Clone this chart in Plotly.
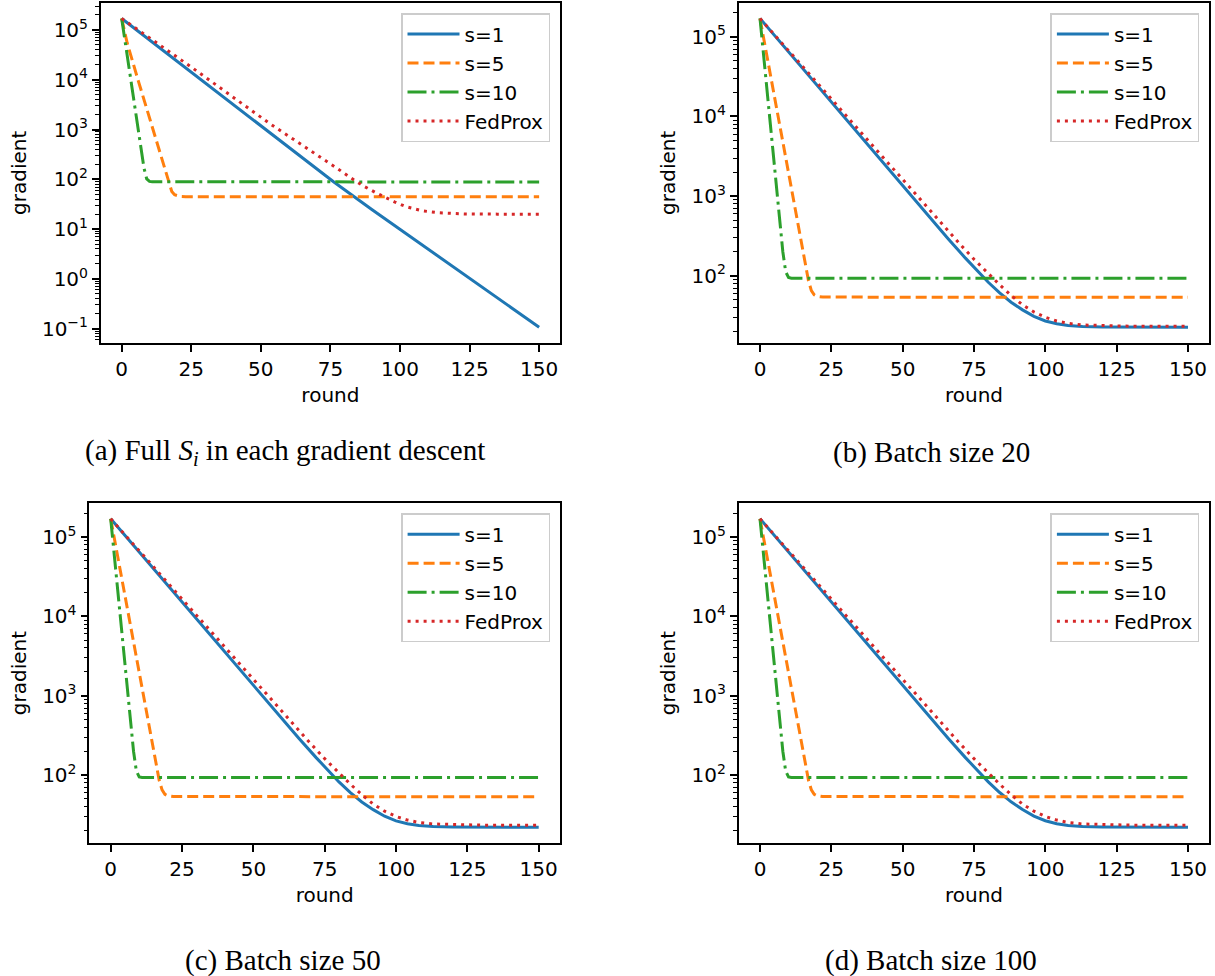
import math
import plotly.graph_objects as go

W, H = 1215, 976

# ---------------------------------------------------------------------------
# Gradient norm vs. communication round, sampled at selected rounds
# ---------------------------------------------------------------------------
SERIES_NAMES = ["s=1", "s=5", "s=10", "FedProx"]
ROUND_TICKS = [0, 25, 50, 75, 100, 125, 150]

# (a) full S_i in every gradient step
A_S1_ROUNDS = [0, 25, 50, 64, 76, 90, 105, 125, 150]
A_S1_GRAD = [170000, 14290, 1189, 295, 90.2, 24.5, 6.31, 1.047, 0.107]
A_S5_ROUNDS = [0, 2, 6, 10, 14, 16, 17, 18, 19, 20, 21, 23, 150]
A_S5_GRAD = [170000, 54000, 9400, 1650, 290, 121, 82, 57, 49, 46.3, 45.3, 44.8, 44.6]
A_S10_ROUNDS = [0, 2, 4, 6, 7, 8, 9, 10, 11, 150]
A_S10_GRAD = [170000, 30000, 5400, 950, 400, 170, 102, 91, 89, 88.7]
A_FP_ROUNDS = [0, 25, 53, 69, 78, 83, 87, 91, 94, 98, 102, 105, 108, 114, 123, 135, 150]
A_FP_GRAD = [170000, 18000, 1340, 350, 158, 101, 72.8, 55.1, 44.9, 35.4, 28.4, 25.4,
             23.3, 21.3, 20.2, 20.0, 20.0]

# (b)-(d) mini-batch runs, sampled at the same rounds
MB_S1_ROUNDS = [0, 25, 50, 60, 66, 72, 76, 80, 84, 88, 92, 96, 100, 104, 108, 113, 120,
                130, 150]
MB_S5_ROUNDS = [0, 2, 5, 10, 14, 16, 17, 18, 19, 20, 22, 150]
MB_S10_ROUNDS = [0, 2, 4, 6, 7, 8, 9, 10, 11, 150]
MB_FP_ROUNDS = [0, 25, 50, 65, 70, 75, 80, 84, 88, 92, 96, 100, 104, 108, 113, 120, 130,
                150]

# (b) batch size 20
B_S1_GRAD = [170000, 15090, 1336, 512, 289, 166, 116, 82.6, 60.7, 46.4, 37.2, 30.8, 27.0,
             24.9, 23.7, 23.0, 22.7, 22.55, 22.5]
B_S5_GRAD = [170000, 69000, 18000, 1900, 316, 129, 86, 65, 57.5, 55, 53.8, 53.6]
B_S10_GRAD = [170000, 32000, 5900, 1100, 470, 200, 112, 95, 93, 92.7]
B_FP_GRAD = [170000, 16440, 1590, 396, 251, 161, 105.3, 76.7, 56.5, 43.0, 35.0, 30.0,
             27.0, 25.2, 24.0, 23.5, 23.2, 23.1]

# (c) batch size 50
C_S1_GRAD = [170000, 15090, 1336, 512, 289, 166, 115.5, 82.0, 60.2, 45.9, 36.7, 30.3,
             26.5, 24.4, 23.2, 22.5, 22.2, 22.05, 22.0]
C_S5_GRAD = [170000, 69000, 18000, 1900, 316, 129, 86, 65, 57.3, 54.8, 53.6, 53.4]
C_S10_GRAD = [170000, 32000, 5900, 1100, 470, 200, 112, 95, 93.5, 93.3]
C_FP_GRAD = [170000, 16440, 1590, 396, 251, 161, 105.4, 76.8, 56.6, 43.1, 35.1, 30.1,
             27.1, 25.3, 24.2, 23.7, 23.4, 23.3]

# (d) batch size 100
D_S1_GRAD = [170000, 15090, 1336, 512, 289, 166, 115.6, 82.1, 60.3, 46.0, 36.8, 30.4,
             26.6, 24.4, 23.2, 22.5, 22.2, 22.05, 22.0]
D_S5_GRAD = [170000, 69000, 18000, 1900, 316, 129, 86, 65, 57.3, 54.8, 53.6, 53.4]
D_S10_GRAD = [170000, 32000, 5900, 1100, 470, 200, 112, 95, 93.5, 93.3]
D_FP_GRAD = [170000, 16440, 1590, 396, 251, 161, 105.4, 76.8, 56.6, 43.1, 35.1, 30.1,
             27.1, 25.3, 24.2, 23.7, 23.4, 23.3]

CAPTIONS = [
    "(a) Full <i>S</i><sub><i>i</i></sub> in each gradient descent",
    "(b) Batch size 20",
    "(c) Batch size 50",
    "(d) Batch size 100",
]

# ---------------------------------------------------------------------------
# Layout of the four panels (pixel boxes: left, right, top, bottom)
# ---------------------------------------------------------------------------
PANELS = [
    dict(box=(100.8, 560.0, 3.0, 342.7), cap=(285.3, 452.0),
         data=[(A_S1_ROUNDS, A_S1_GRAD), (A_S5_ROUNDS, A_S5_GRAD),
               (A_S10_ROUNDS, A_S10_GRAD), (A_FP_ROUNDS, A_FP_GRAD)]),
    dict(box=(738.6, 1209.4, 3.0, 342.7), cap=(931.0, 452.0),
         data=[(MB_S1_ROUNDS, B_S1_GRAD), (MB_S5_ROUNDS, B_S5_GRAD),
               (MB_S10_ROUNDS, B_S10_GRAD), (MB_FP_ROUNDS, B_FP_GRAD)]),
    dict(box=(89.3, 560.1, 503.3, 842.7), cap=(283.0, 960.0),
         data=[(MB_S1_ROUNDS, C_S1_GRAD), (MB_S5_ROUNDS, C_S5_GRAD),
               (MB_S10_ROUNDS, C_S10_GRAD), (MB_FP_ROUNDS, C_FP_GRAD)]),
    dict(box=(738.6, 1209.4, 503.3, 842.7), cap=(931.0, 960.0),
         data=[(MB_S1_ROUNDS, D_S1_GRAD), (MB_S5_ROUNDS, D_S5_GRAD),
               (MB_S10_ROUNDS, D_S10_GRAD), (MB_FP_ROUNDS, D_FP_GRAD)]),
]

LINE_STYLES = [
    dict(color="#1f77b4", dash="solid"),
    dict(color="#ff7f0e", dash="11px,5px"),
    dict(color="#2ca02c", dash="19px,5px,3px,5px"),
    dict(color="#d62728", dash="3px,5px"),
]

SANS = "DejaVu Sans"
SERIF = "Liberation Serif"
FONT = dict(family=SANS, size=20, color="black")


def sup_label(k):
    return "10<sup>%s</sup>" % (str(k).replace("-", "\u2212"))


fig = go.Figure()
layout = dict(
    width=W, height=H, margin=dict(l=0, r=0, t=0, b=0),
    paper_bgcolor="white", plot_bgcolor="white",
    font=FONT, template="none", annotations=[],
)

for i, p in enumerate(PANELS):
    sfx = "" if i == 0 else str(i + 1)
    left, right, top, bottom = p["box"]

    all_x, all_y = [], []
    for (rounds, grad), name, style in zip(p["data"], SERIES_NAMES, LINE_STYLES):
        all_x += rounds
        all_y += grad
        fig.add_trace(go.Scatter(
            x=rounds, y=grad, mode="lines", name=name,
            line=dict(width=3, **style),
            xaxis="x" + sfx, yaxis="y" + sfx, legend="legend" + sfx,
        ))

    # autoscale with 5% padding, like the default data margins
    xmin, xmax = min(all_x), max(all_x)
    xpad = 0.05 * (xmax - xmin)
    ylo, yhi = math.log10(min(all_y)), math.log10(max(all_y))
    ypad = 0.05 * (yhi - ylo)
    ylo, yhi = ylo - ypad, yhi + ypad

    decades = list(range(math.ceil(ylo), math.floor(yhi) + 1))
    minor_vals = []
    for k in range(math.floor(ylo), math.ceil(yhi) + 1):
        for m in range(2, 10):
            v = m * 10 ** k
            if ylo <= math.log10(v) <= yhi:
                minor_vals.append(v)

    axis_common = dict(
        showline=True, linecolor="black", linewidth=1.6, mirror=True,
        showgrid=False, zeroline=False, ticks="outside", ticklen=7,
        tickwidth=1.6, tickcolor="black", tickfont=FONT, automargin=False,
    )
    layout["xaxis" + sfx] = dict(
        axis_common,
        domain=[left / W, right / W], anchor="y" + sfx,
        range=[xmin - xpad, xmax + xpad],
        tickmode="array", tickvals=ROUND_TICKS,
        title=dict(text="round", font=FONT, standoff=8),
    )
    layout["yaxis" + sfx] = dict(
        axis_common,
        domain=[1 - bottom / H, 1 - top / H], anchor="x" + sfx,
        type="log", range=[ylo, yhi],
        tickmode="array", tickvals=[10 ** k for k in decades],
        ticktext=[sup_label(k) for k in decades],
        minor=dict(tickmode="array", tickvals=minor_vals, ticks="outside",
                   ticklen=4, tickwidth=1.2, tickcolor="black", showgrid=False),
        title=dict(text="gradient", font=FONT, standoff=10),
    )
    layout["legend" + sfx] = dict(
        x=(right - 10) / W, y=1 - (top + 10) / H,
        xanchor="right", yanchor="top",
        bgcolor="rgba(255,255,255,0.8)", bordercolor="#cccccc", borderwidth=1.5,
        font=FONT, itemwidth=52, tracegroupgap=0,
    )

    cx, cy = p["cap"]
    layout["annotations"].append(dict(
        text=CAPTIONS[i], x=cx / W, y=1 - cy / H, xref="paper", yref="paper",
        xanchor="center", yanchor="middle", showarrow=False,
        font=dict(family=SERIF, size=29, color="black"),
    ))

fig.update_layout(**layout)
fig.write_html("out.html")
